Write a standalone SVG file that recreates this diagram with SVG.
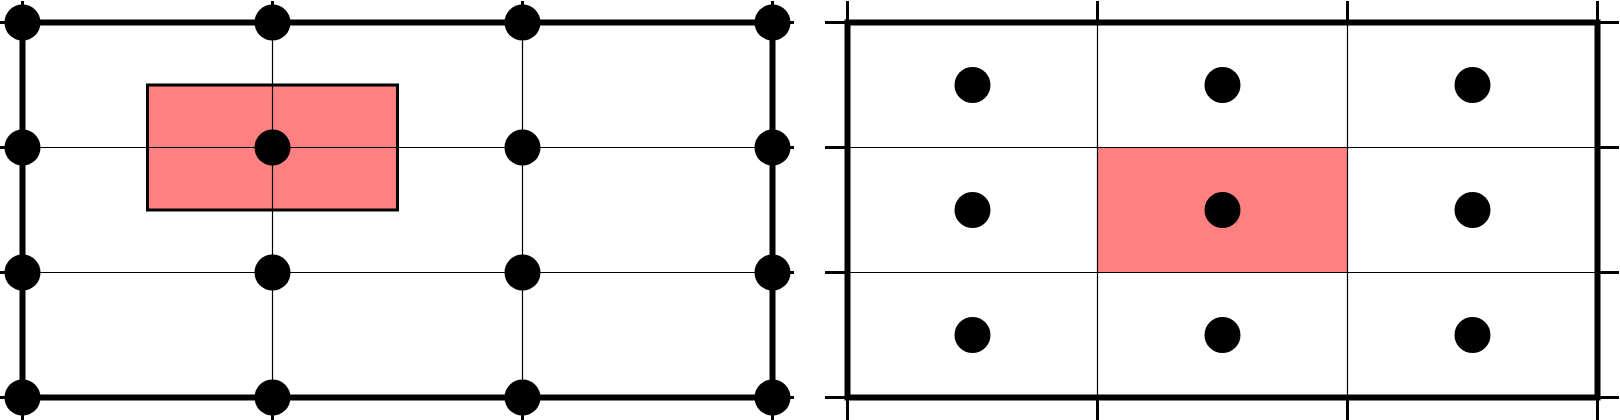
<svg xmlns="http://www.w3.org/2000/svg" width="1620" height="420" viewBox="0 0 1620 420">
<style>
.frame{fill:none;stroke:#000;stroke-width:6}
.grid{stroke:#000;stroke-width:1.2;fill:none}
.tick{stroke:#000;stroke-width:3}
.pink{fill:#FF8080}
.dot{fill:#000}
</style>
<rect width="1620" height="420" fill="#fff"/>
<g id="left-panel">
  <rect class="pink" x="147.5" y="85" width="250" height="125" stroke="#000" stroke-width="3"/>
  <g class="grid">
    <line x1="272.5" y1="22.5" x2="272.5" y2="397.5"/>
    <line x1="522.5" y1="22.5" x2="522.5" y2="397.5"/>
    <line x1="22.5" y1="147.5" x2="772.5" y2="147.5"/>
    <line x1="22.5" y1="272.5" x2="772.5" y2="272.5"/>
  </g>
  <g class="tick">
    <line x1="22.5" y1="1" x2="22.5" y2="22.5"/>
    <line x1="272.5" y1="1" x2="272.5" y2="22.5"/>
    <line x1="522.5" y1="1" x2="522.5" y2="22.5"/>
    <line x1="772.5" y1="1" x2="772.5" y2="22.5"/>
    <line x1="22.5" y1="397.5" x2="22.5" y2="420"/>
    <line x1="272.5" y1="397.5" x2="272.5" y2="420"/>
    <line x1="522.5" y1="397.5" x2="522.5" y2="420"/>
    <line x1="772.5" y1="397.5" x2="772.5" y2="420"/>
    <line x1="0" y1="22.5" x2="22.5" y2="22.5"/>
    <line x1="0" y1="147.5" x2="22.5" y2="147.5"/>
    <line x1="0" y1="272.5" x2="22.5" y2="272.5"/>
    <line x1="0" y1="397.5" x2="22.5" y2="397.5"/>
    <line x1="772.5" y1="22.5" x2="794" y2="22.5"/>
    <line x1="772.5" y1="147.5" x2="794" y2="147.5"/>
    <line x1="772.5" y1="272.5" x2="794" y2="272.5"/>
    <line x1="772.5" y1="397.5" x2="794" y2="397.5"/>
  </g>
  <rect class="frame" x="22.5" y="22.5" width="750" height="375"/>
  <g class="dot">
    <circle cx="22.5" cy="22.5" r="18"/><circle cx="272.5" cy="22.5" r="18"/><circle cx="522.5" cy="22.5" r="18"/><circle cx="772.5" cy="22.5" r="18"/>
    <circle cx="22.5" cy="147.5" r="18"/><circle cx="272.5" cy="147.5" r="18"/><circle cx="522.5" cy="147.5" r="18"/><circle cx="772.5" cy="147.5" r="18"/>
    <circle cx="22.5" cy="272.5" r="18"/><circle cx="272.5" cy="272.5" r="18"/><circle cx="522.5" cy="272.5" r="18"/><circle cx="772.5" cy="272.5" r="18"/>
    <circle cx="22.5" cy="397.5" r="18"/><circle cx="272.5" cy="397.5" r="18"/><circle cx="522.5" cy="397.5" r="18"/><circle cx="772.5" cy="397.5" r="18"/>
  </g>
</g>
<g id="right-panel">
  <rect class="pink" x="1097.5" y="147.5" width="250" height="125"/>
  <g class="grid">
    <line x1="1097.5" y1="22.5" x2="1097.5" y2="397.5"/>
    <line x1="1347.5" y1="22.5" x2="1347.5" y2="397.5"/>
    <line x1="847.5" y1="147.5" x2="1597.5" y2="147.5"/>
    <line x1="847.5" y1="272.5" x2="1597.5" y2="272.5"/>
  </g>
  <g class="tick">
    <line x1="847.5" y1="1" x2="847.5" y2="22.5"/>
    <line x1="1097.5" y1="1" x2="1097.5" y2="22.5"/>
    <line x1="1347.5" y1="1" x2="1347.5" y2="22.5"/>
    <line x1="1597.5" y1="1" x2="1597.5" y2="22.5"/>
    <line x1="847.5" y1="397.5" x2="847.5" y2="420"/>
    <line x1="1097.5" y1="397.5" x2="1097.5" y2="420"/>
    <line x1="1347.5" y1="397.5" x2="1347.5" y2="420"/>
    <line x1="1597.5" y1="397.5" x2="1597.5" y2="420"/>
    <line x1="825" y1="22.5" x2="847.5" y2="22.5"/>
    <line x1="825" y1="147.5" x2="847.5" y2="147.5"/>
    <line x1="825" y1="272.5" x2="847.5" y2="272.5"/>
    <line x1="825" y1="397.5" x2="847.5" y2="397.5"/>
    <line x1="1597.5" y1="22.5" x2="1619" y2="22.5"/>
    <line x1="1597.5" y1="147.5" x2="1619" y2="147.5"/>
    <line x1="1597.5" y1="272.5" x2="1619" y2="272.5"/>
    <line x1="1597.5" y1="397.5" x2="1619" y2="397.5"/>
  </g>
  <rect class="frame" x="847.5" y="22.5" width="750" height="375"/>
  <g class="dot">
    <circle cx="972.5" cy="85" r="18"/><circle cx="1222.5" cy="85" r="18"/><circle cx="1472.5" cy="85" r="18"/>
    <circle cx="972.5" cy="210" r="18"/><circle cx="1222.5" cy="210" r="18"/><circle cx="1472.5" cy="210" r="18"/>
    <circle cx="972.5" cy="335" r="18"/><circle cx="1222.5" cy="335" r="18"/><circle cx="1472.5" cy="335" r="18"/>
  </g>
</g>
</svg>
